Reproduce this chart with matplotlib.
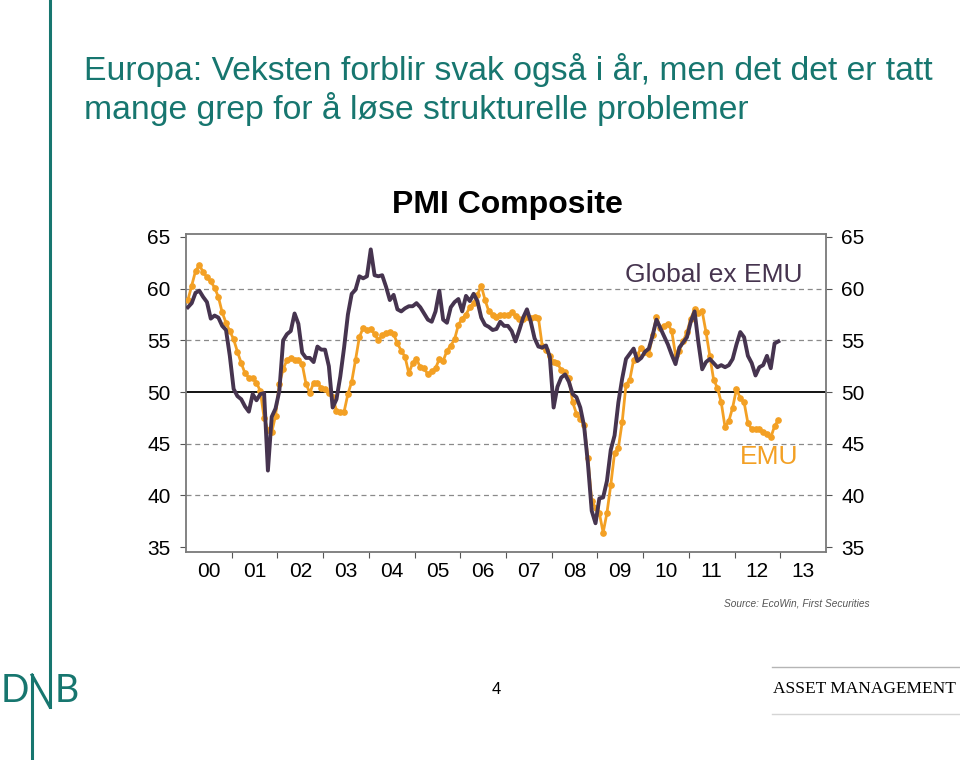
import numpy as np
import matplotlib.pyplot as plt
from matplotlib.lines import Line2D

plt.rcParams['font.family'] = ['Liberation Sans', 'DejaVu Sans']

title_line1 = "Europa: Veksten forblir svak også i år, men det det er tatt"
title_line2 = "mange grep for å løse strukturelle problemer"
chart_title = "PMI Composite"
source_text = "Source: EcoWin, First Securities"
start_year = 2000
year_labels = ["00", "01", "02", "03", "04", "05", "06", "07",
               "08", "09", "10", "11", "12", "13"]
y_ticks = [35, 40, 45, 50, 55, 60, 65]

# monthly values, Jan 2000 - Dec 2012
global_ex_emu = [
    58.2, 58.6, 59.6, 59.8, 59.2, 58.7, 57.1, 57.4, 57.2, 56.4, 56.0, 53.5,
    50.3, 49.6, 49.3, 48.6, 48.1, 49.8, 49.2, 49.8, 49.9, 42.4, 47.6, 48.4,
    50.1, 55.0, 55.6, 55.9, 57.6, 56.6, 53.8, 53.3, 53.3, 52.9, 54.4, 54.1,
    54.1, 52.5, 48.5, 49.3, 51.5, 54.3, 57.5, 59.5, 59.9, 61.2, 61.0, 61.2,
    63.8, 61.3, 61.2, 61.3, 60.2, 58.9, 59.4, 58.0, 57.8, 58.1, 58.3, 58.3,
    58.6, 58.2, 57.6, 57.0, 56.8, 57.8, 59.8, 57.0, 56.7, 58.2, 58.7, 59.0,
    57.8, 59.3, 58.8, 59.5, 58.8, 57.2, 56.5, 56.3, 56.0, 56.1, 56.8, 56.4,
    56.4, 55.9, 54.9, 56.0, 57.2, 58.0, 56.8, 55.2, 54.4, 54.3, 54.5, 53.4,
    48.5, 50.5, 51.4, 51.7, 51.0, 49.8, 49.5, 48.5, 46.7, 43.1, 38.5, 37.3,
    39.7, 39.8, 41.4, 44.4, 45.8, 49.0, 51.3, 53.2, 53.7, 54.2, 53.0, 53.3,
    53.9, 54.2, 55.5, 57.0, 56.2, 55.4, 54.6, 53.6, 52.7, 54.3, 54.8, 55.3,
    56.8, 57.8, 54.8, 52.2, 52.9, 53.2, 52.8, 52.4, 52.6, 52.4, 52.6, 53.2,
    54.6, 55.8, 55.3, 53.5, 52.8, 51.6, 52.4, 52.6, 53.5, 52.3, 54.7, 54.9,
]
emu = [
    58.9, 60.3, 61.7, 62.3, 61.6, 61.1, 60.7, 60.1, 59.2, 57.7, 56.7, 55.9,
    55.1, 53.9, 52.8, 51.8, 51.4, 51.4, 50.9, 50.1, 47.5, 46.3, 46.1, 47.7,
    50.8, 52.2, 53.1, 53.3, 53.1, 53.1, 52.7, 50.8, 49.9, 50.9, 50.9, 50.4,
    50.3, 49.9, 49.5, 48.2, 48.1, 48.1, 49.8, 51.0, 53.1, 55.3, 56.2, 56.0,
    56.1, 55.6, 55.0, 55.5, 55.7, 55.8, 55.6, 54.7, 54.0, 53.4, 51.8, 52.8,
    53.2, 52.4, 52.3, 51.7, 52.0, 52.3, 53.2, 53.0, 54.0, 54.5, 55.1, 56.5,
    57.1, 57.5, 58.2, 58.6, 59.4, 60.3, 58.9, 57.8, 57.5, 57.3, 57.5, 57.5,
    57.5, 57.7, 57.4, 57.1, 57.1, 57.3, 57.2, 57.3, 57.2, 54.5, 54.1, 53.5,
    52.9, 52.8, 52.1, 51.9, 51.4, 49.0, 47.9, 47.4, 46.8, 43.6, 39.5, 38.8,
    38.3, 36.4, 38.3, 41.0, 44.1, 44.6, 47.1, 50.7, 51.2, 53.1, 53.6, 54.3,
    53.9, 53.7, 55.5, 57.3, 56.2, 56.4, 56.6, 55.9, 53.6, 54.0, 54.9, 55.8,
    57.1, 58.0, 57.6, 57.8, 55.8, 53.5, 51.2, 50.4, 49.0, 46.6, 47.2, 48.5,
    50.3, 49.4, 49.0, 47.0, 46.4, 46.4, 46.4, 46.1, 45.9, 45.6, 46.7, 47.3,
]

teal = "#17766f"
purple = "#46344f"
orange = "#f3a024"

fig = plt.figure(figsize=(9.6, 7.6), dpi=100)

# slide title
fig.text(84/960, 1 - 80/760, title_line1, color=teal, fontsize=24.3, va='baseline')
fig.text(84/960, 1 - 119/760, title_line2, color=teal, fontsize=24.3, va='baseline')

# chart
ax = fig.add_axes([186/960, 208/760, 640/960, 318/760])
x = start_year + (np.arange(len(emu)) + 0.5) / 12

for g in [40, 45, 55, 60]:
    ax.axhline(g, color='#8a8a8a', lw=0.9, ls=(0, (4, 3)), zorder=1)
ax.axhline(50, color='black', lw=1.3, zorder=1)

ax.plot(x, emu, color=orange, lw=2.0, marker='o', ms=3.8, zorder=3)
ax.plot(x, global_ex_emu, color=purple, lw=2.8, zorder=4)

ax.set_xlim(start_year, start_year + len(year_labels))
ax.set_ylim(34.52, 65.29)
ax.set_yticks(y_ticks)
ax.set_xticks(np.arange(start_year + 1, start_year + len(year_labels)))
ax.set_xticklabels([])
ax.set_xticks(start_year + np.arange(len(year_labels)) + 0.5, minor=True)
ax.set_xticklabels(year_labels, minor=True)
ax.tick_params(axis='x', which='major', direction='out', length=4, color='#555555')
ax.tick_params(axis='x', which='minor', length=0, pad=7, labelsize=15)
ax.tick_params(axis='y', direction='out', length=4, color='#555555', pad=7,
               labelsize=15, left=True, right=True, labelleft=True, labelright=True)
for s in ax.spines.values():
    s.set_color('#7a7a7a')
    s.set_linewidth(1.3)

fig.text(507/960, 1 - 205/760, chart_title, fontsize=23, fontweight='bold',
         ha='center', va='center')
fig.text(625/960, 1 - 275/760, "Global ex EMU", color=purple, fontsize=19,
         va='center')
fig.text(740/960, 1 - 457/760, "EMU", color=orange, fontsize=19, va='center')
fig.text(724/960, 1 - 604/760, source_text, fontsize=7.3, style='italic',
         color='#555555', va='center')

# logo and footer
fig.add_artist(Line2D([50/960, 50/960], [1.0, 1 - 707/760], color=teal, lw=2.2))
fig.add_artist(Line2D([32/960, 50/960], [1 - 675/760, 1 - 707/760], color=teal, lw=2.2))
fig.add_artist(Line2D([32/960, 32/960], [1 - 675/760, 0.0], color=teal, lw=2.2))
fig.text(1/960, 1 - 691/760, "D", color=teal, fontsize=27, family=['Lato', 'DejaVu Sans'],
         va='center')
fig.text(55/960, 1 - 691/760, "B", color=teal, fontsize=27, family=['Lato', 'DejaVu Sans'],
         va='center')
fig.text(496/960, 1 - 690/760, "4", fontsize=12, ha='center', va='center')
fig.add_artist(Line2D([772/960, 1.0], [1 - 667/760, 1 - 667/760], color='#b5b5b5', lw=1))
fig.add_artist(Line2D([772/960, 1.0], [1 - 714/760, 1 - 714/760], color='#d5d5d5', lw=1))
fig.text(773/960, 1 - 689/760, "ASSET MANAGEMENT", fontsize=12.5,
         family=['Liberation Serif', 'DejaVu Serif'], va='center')

fig.savefig('out.png', dpi=100)
